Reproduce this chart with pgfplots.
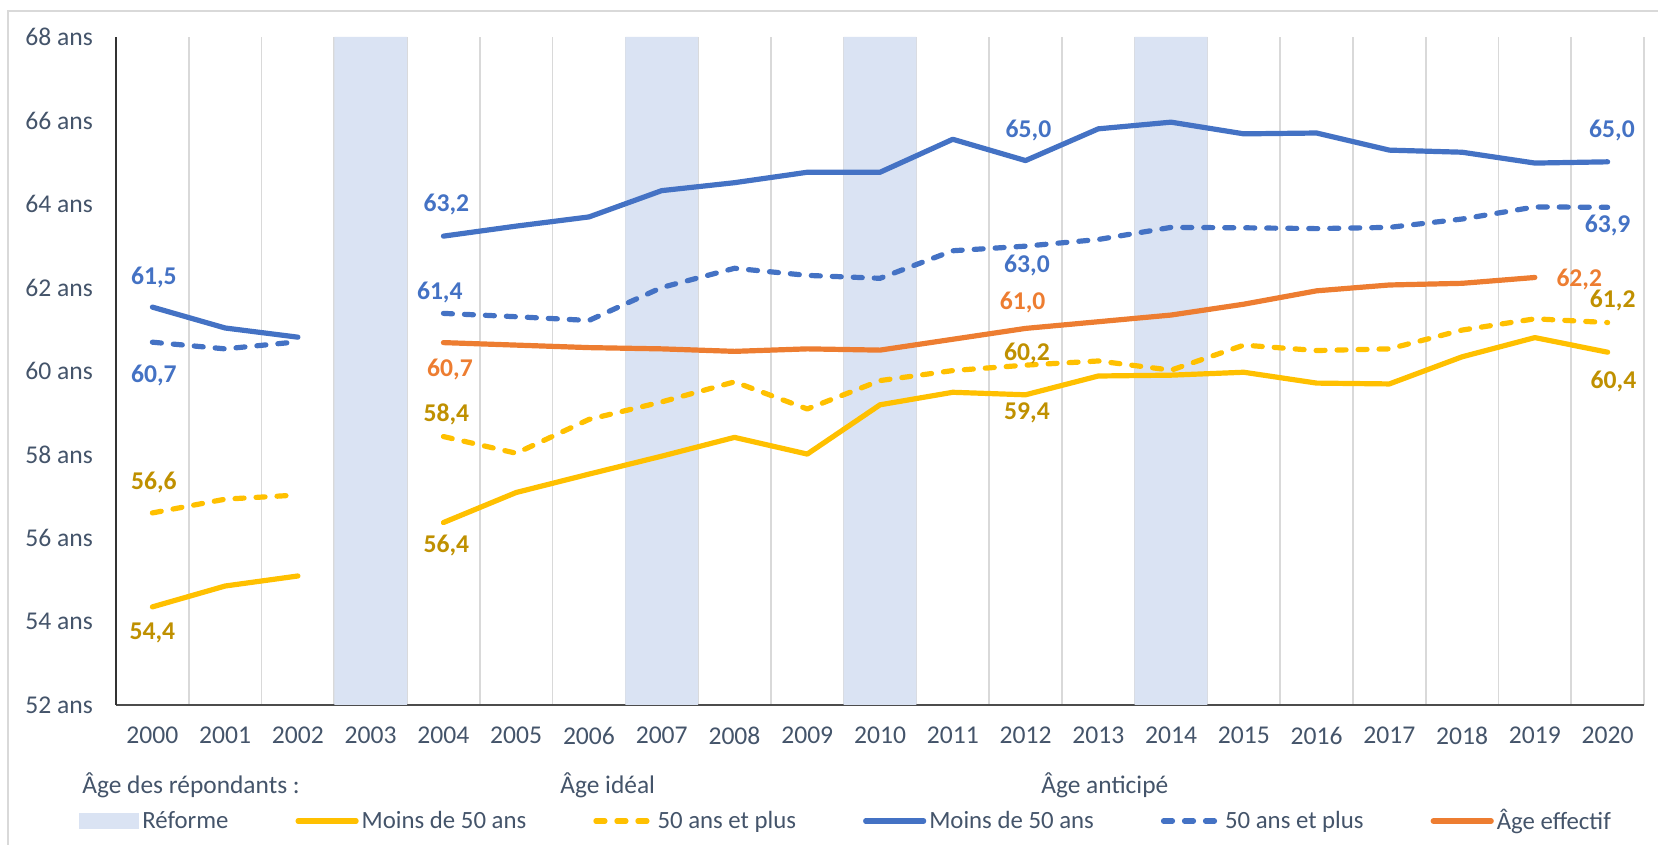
\documentclass[border=0pt]{standalone}
\usepackage{pgfplots}
\pgfplotsset{compat=1.18}
\usepackage{fontspec}
\setmainfont{Carlito}
\definecolor{cblue}{HTML}{4472C4}
\definecolor{corange}{HTML}{ED7D31}
\definecolor{cyellow}{HTML}{FFC000}
\definecolor{cgold}{HTML}{BF9000}
\definecolor{reform}{HTML}{DAE3F3}
\definecolor{ctext}{HTML}{44546A}
\definecolor{cgrid}{HTML}{D9D9D9}
\pgfplotsset{
  lineleg/.style={legend image code/.code={\draw[##1] (0pt,0pt) -- (29pt,0pt);}},
  dashleg/.style={legend image code/.code={\draw[##1] (1pt,0pt) -- (29pt,0pt);}},
  boxleg/.style={legend image code/.code={\fill[reform] (0pt,-4pt) rectangle (30pt,4pt);}},
}
\begin{document}
\begin{tikzpicture}
\path[use as bounding box] (0,0) rectangle (829pt,422.5pt);
\draw[cgrid, line width=1pt] (4pt,-2pt) -- (4pt,417pt) -- (831pt,417pt);
\begin{axis}[
  scale only axis, width=764pt, height=334pt,
  at={(58pt,70pt)}, anchor=south west,
  xmin=-0.5, xmax=20.5, ymin=52, ymax=68,
  axis x line*=bottom, axis y line*=left,
  x axis line style={black!70, line width=0.9pt},
  y axis line style={black!80, line width=0.8pt},
  xtick={0,...,20},
  xticklabels={2000,2001,2002,2003,2004,2005,2006,2007,2008,2009,2010,2011,2012,2013,2014,2015,2016,2017,2018,2019,2020},
  ytick={52,54,...,68},
  yticklabels={52 ans,54 ans,56 ans,58 ans,60 ans,62 ans,64 ans,66 ans,68 ans},
  major tick length=0pt, minor tick length=0pt,
  minor xtick={-0.5,0.5,...,20.5},
  xminorgrids=true,
  minor grid style={cgrid, line width=0.8pt},
  tick label style={font=\fontsize{12.8}{15}\selectfont, text=ctext},
  yticklabel style={xshift=-8pt},
  xticklabel style={yshift=-7.5pt},
  unbounded coords=jump,
  legend columns=6,
  legend style={at={(axis description cs:-0.0242,-0.1737)}, anchor=west,
    draw=none, fill=none, inner sep=0pt, column sep=0pt,
    nodes={inner sep=1.5pt, text=ctext, font=\fontsize{12.4}{15}\selectfont},
    /tikz/every even column/.append style={column sep=32pt}},
  every axis plot/.append style={line width=2.6pt, line cap=round, line join=round},
  ylinedash/.style={dash pattern=on 4.5pt off 6pt},
]
\addplot[ybar, bar width=1, bar shift=0pt, fill=reform, draw=none, line width=0pt, boxleg]
  coordinates {(3,68) (7,68) (10,68) (14,68)};
\addlegendentry{Réforme}
\addplot[cyellow, lineleg] coordinates {
(0,54.35) (1,54.85) (2,55.09) (3,nan) (4,56.37) (5,57.09) (6,57.53) (7,57.96) (8,58.41) (9,58.01)
(10,59.19) (11,59.49) (12,59.43) (13,59.88) (14,59.90) (15,59.97) (16,59.71) (17,59.69) (18,60.34) (19,60.80) (20,60.45)};
\addlegendentry{Moins de 50 ans}
\addplot[cyellow, ylinedash, dashleg] coordinates {
(0,56.60) (1,56.93) (2,57.03) (3,nan) (4,58.43) (5,58.03) (6,58.84) (7,59.26) (8,59.74) (9,59.09)
(10,59.77) (11,60.01) (12,60.14) (13,60.24) (14,60.02) (15,60.62) (16,60.49) (17,60.53) (18,60.98) (19,61.25) (20,61.16)};
\addlegendentry{50 ans et plus}
\addplot[cblue, lineleg] coordinates {
(0,61.53) (1,61.03) (2,60.81) (3,nan) (4,63.23) (5,63.47) (6,63.69) (7,64.32) (8,64.51) (9,64.76)
(10,64.76) (11,65.55) (12,65.04) (13,65.80) (14,65.96) (15,65.68) (16,65.70) (17,65.29) (18,65.24) (19,64.98) (20,65.01)};
\addlegendentry{Moins de 50 ans}
\addplot[cblue, ylinedash, dashleg] coordinates {
(0,60.69) (1,60.53) (2,60.70) (3,nan) (4,61.38) (5,61.30) (6,61.21) (7,62.00) (8,62.46) (9,62.29)
(10,62.22) (11,62.88) (12,62.99) (13,63.15) (14,63.44) (15,63.43) (16,63.41) (17,63.44) (18,63.64) (19,63.93) (20,63.92)};
\addlegendentry{50 ans et plus}
\addplot[corange, lineleg] coordinates {
(4,60.68) (5,60.62) (6,60.56) (7,60.53) (8,60.47) (9,60.53) (10,60.50) (11,60.76) (12,61.02)
(13,61.18) (14,61.34) (15,61.60) (16,61.92) (17,62.06) (18,62.10) (19,62.24)};
\addlegendentry{Âge effectif}
% data labels
\begin{scope}[every node/.style={font=\bfseries\fontsize{12.8}{15}\selectfont, inner sep=0pt}]
\node[text=cblue] at (axis cs:0.02,62.25) {61,5};
\node[text=cblue] at (axis cs:0.02,59.9) {60,7};
\node[text=cgold] at (axis cs:0.02,57.34) {56,6};
\node[text=cgold] at (axis cs:0,53.72) {54,4};
\node[text=cblue] at (axis cs:4.04,63.98) {63,2};
\node[text=cblue] at (axis cs:3.95,61.88) {61,4};
\node[text=corange] at (axis cs:4.09,60.04) {60,7};
\node[text=cgold] at (axis cs:4.04,58.95) {58,4};
\node[text=cgold] at (axis cs:4.04,55.83) {56,4};
\node[text=cblue] at (axis cs:12.04,65.77) {65,0};
\node[text=cblue] at (axis cs:12.02,62.52) {63,0};
\node[text=corange] at (axis cs:11.96,61.64) {61,0};
\node[text=cgold] at (axis cs:12.02,60.42) {60,2};
\node[text=cgold] at (axis cs:12.02,59.0) {59,4};
\node[text=cblue] at (axis cs:20.06,65.75) {65,0};
\node[text=cblue] at (axis cs:20.0,63.48) {63,9};
\node[text=corange] at (axis cs:19.61,62.2) {62,2};
\node[text=cgold] at (axis cs:20.07,61.68) {61,2};
\node[text=cgold] at (axis cs:20.08,59.74) {60,4};
\end{scope}
\end{axis}
\begin{scope}[every node/.style={font=\fontsize{12.7}{15}\selectfont, text=ctext, anchor=west, inner sep=0pt}]
\node at (41pt,30pt) {Âge des répondants~:};
\node at (280pt,30pt) {Âge idéal};
\node at (520.5pt,30pt) {Âge anticipé};
\end{scope}
\end{tikzpicture}
\end{document}
